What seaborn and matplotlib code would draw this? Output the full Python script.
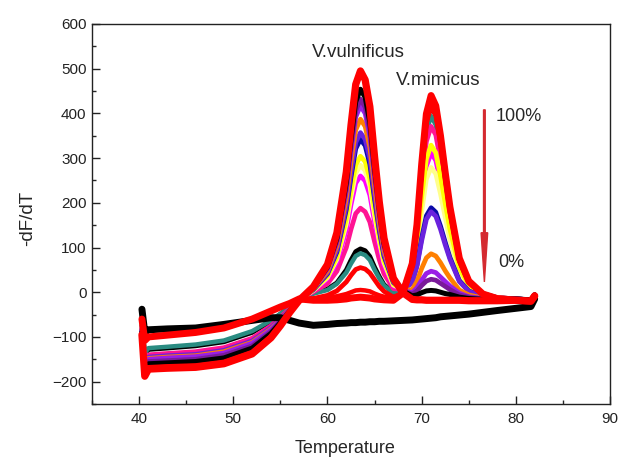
import matplotlib
matplotlib.use("Agg")
import matplotlib.pyplot as plt
import pandas as pd
import seaborn as sns
from matplotlib.ticker import MultipleLocator

# ---------------- data ----------------
temps = [40.3, 40.6, 41, 43, 46, 49, 52, 54, 55, 56, 57, 58.5, 60, 61, 62, 62.5, 63, 63.5,
         64, 64.5, 65, 65.5, 66, 67, 68, 69, 69.5, 70, 70.5, 71, 71.5, 72, 72.5, 73, 74,
         75, 76.5, 78, 80, 81.6, 82]

red_a = [-95, -188, -172, -170, -168, -160, -138, -102, -75, -45, -18, 12, 62, 133, 269, 374,
         465, 495, 475, 415, 303, 202, 121, 31, -1, -16, -17, -17, -18, -18, -18, -18, -18,
         -18, -18, -19, -19, -19, -18, -20, -8]
black_a = [-89, -175, -160, -158, -155, -147, -125, -92, -68, -42, -17, 10, 57, 121, 246, 343,
           426, 454, 436, 380, 277, 185, 110, 32, 3, -8, -6, -1, 3, 4, 3, 0, -3, -5, -11,
           -14, -16, -16, -15, -17, -6]
dark_purple = [-87, -169, -155, -153, -150, -141, -120, -88, -65, -40, -17, 9, 54, 115, 234,
               326, 406, 432, 414, 362, 264, 176, 104, 30, 3, -4, 3, 15, 25, 29, 27, 20, 13, 6,
               -6, -11, -15, -16, -15, -17, -6]
violet = [-84, -164, -150, -147, -144, -136, -114, -84, -62, -39, -17, 9, 52, 111, 226, 315,
          392, 417, 400, 349, 255, 170, 101, 28, 4, -1, 10, 27, 42, 47, 44, 34, 24, 14, -2,
          -10, -14, -16, -15, -17, -6]
orange = [-83, -161, -148, -145, -142, -133, -112, -82, -61, -38, -17, 8, 47, 103, 209, 292,
          363, 387, 371, 324, 236, 157, 93, 26, 4, 6, 24, 53, 77, 86, 81, 66, 48, 32, 5, -6,
          -13, -15, -15, -17, -6]
blue_violet = [-82, -158, -145, -142, -139, -130, -109, -79, -59, -37, -17, 7, 43, 94, 193,
               269, 335, 357, 342, 299, 217, 144, 85, 23, 6, 21, 58, 115, 163, 180, 170, 141,
               106, 74, 24, 2, -10, -14, -15, -17, -6]
navy = [-84, -165, -151, -148, -145, -137, -115, -85, -63, -39, -17, 6, 41, 90, 185, 258, 321,
        342, 328, 286, 208, 138, 81, 22, 6, 23, 61, 121, 171, 189, 179, 148, 112, 78, 26, 3,
        -10, -14, -15, -17, -6]
yellow = [-92, -180, -165, -163, -160, -152, -130, -96, -71, -43, -18, 5, 36, 79, 164, 229,
          285, 304, 292, 254, 184, 122, 71, 18, 8, 47, 111, 213, 298, 329, 312, 260, 199, 141,
          54, 16, -6, -13, -15, -17, -6]
light_yellow = [-91, -178, -163, -161, -158, -150, -128, -94, -70, -42, -17, 4, 33, 74, 153,
                214, 266, 284, 272, 237, 172, 114, 66, 16, 7, 38, 93, 180, 253, 279, 265, 220,
                168, 118, 44, 11, -7, -13, -15, -17, -6]
magenta = [-84, -164, -150, -147, -144, -136, -114, -84, -62, -39, -17, 3, 30, 67, 139, 196,
           244, 260, 249, 217, 157, 104, 60, 14, 7, 44, 105, 202, 282, 311, 295, 246, 188, 133,
           50, 14, -6, -13, -15, -17, -6]
deep_pink = [-79, -152, -140, -137, -133, -124, -103, -75, -56, -36, -17, 1, 19, 47, 100, 141,
             176, 188, 180, 157, 113, 73, 41, 8, 6, 54, 127, 241, 337, 371, 352, 294, 225, 160,
             62, 19, -5, -12, -15, -17, -6]
black_b = [-74, -139, -128, -125, -120, -111, -90, -65, -49, -33, -16, -2, 7, 21, 50, 72, 91,
           97, 93, 80, 56, 35, 17, -1, 5, 62, 143, 271, 378, 417, 396, 330, 253, 181, 72, 24,
           -3, -12, -15, -17, -6]
teal = [-72, -136, -125, -122, -117, -108, -87, -63, -48, -32, -16, -3, 5, 19, 44, 64, 81, 87,
        83, 72, 50, 31, 15, -1, 4, 58, 135, 256, 358, 394, 374, 312, 239, 170, 67, 21, -4,
        -12, -15, -17, -6]
red_b = [-93, -184, -168, -166, -164, -156, -134, -99, -73, -44, -18, -14, -7, 3, 23, 38, 51,
         55, 52, 43, 28, 13, 2, -11, -2, 59, 142, 274, 384, 424, 402, 336, 257, 182, 71, 22,
         -6, -15, -18, -20, -9]
red_c = [-94, -186, -170, -168, -166, -158, -136, -100, -74, -45, -18, -14, -12, -9, -4, 0,
         4, 5, 4, 2, -3, -7, -10, -14, -3, 57, 140, 269, 377, 416, 394, 330, 252, 178, 69, 21,
         -6, -15, -18, -20, -9]
red_d = [-60, -108, -100, -96, -90, -80, -60, -42, -33, -25, -15, -18, -18, -17, -15, -13,
         -12, -11, -12, -13, -15, -16, -17, -18, -2, 64, 151, 286, 399, 440, 417, 350, 268,
         191, 76, 25, -4, -14, -18, -20, -9]
control = [-38, -90, -84, -82, -80, -72, -63, -57, -57, -63, -69, -74, -72, -70, -69, -68,
           -68, -67, -67, -66, -66, -65, -65, -64, -63, -62, -61, -60, -59, -58, -57, -55,
           -54, -53, -51, -49, -45, -41, -36, -32, -15]

# (name, values, colour, linewidth) in drawing order
curves = [
    ("black_b", black_b, "#000000", 3.4),
    ("teal", teal, "#2a8c82", 3.2),
    ("deep_pink", deep_pink, "#ff1493", 3.4),
    ("magenta", magenta, "#ff00ff", 3.4),
    ("light_yellow", light_yellow, "#ffff8c", 3.4),
    ("yellow", yellow, "#ffff00", 3.4),
    ("navy", navy, "#0a0aa8", 3.4),
    ("blue_violet", blue_violet, "#6a22dd", 3.4),
    ("orange", orange, "#ff8000", 3.4),
    ("violet", violet, "#9a1ee6", 3.4),
    ("dark_purple", dark_purple, "#7a1a9a", 3.4),
    ("black_a", black_a, "#000000", 3.6),
    ("red_c", red_c, "#ff0000", 3.2),
    ("red_b", red_b, "#ff0000", 3.4),
    ("control", control, "#000000", 5.0),
    ("red_d", red_d, "#ff0000", 5.0),
    ("red_a", red_a, "#ff0000", 5.2),
]

frames = [pd.DataFrame({"Temperature": temps, "dFdT": vals, "curve": name})
          for name, vals, _, _ in curves]
df = pd.concat(frames, ignore_index=True)

# ---------------- style ----------------
sns.set_style("ticks")
plt.rcParams["font.family"] = ["Liberation Sans", "DejaVu Sans"]

fig = plt.figure(figsize=(6.18, 4.57), dpi=100)
ax = fig.add_axes([0.1489, 0.116, 0.8382, 0.8315])

for name, _, color, lw in curves:
    sub = df[df["curve"] == name]
    sns.lineplot(data=sub, x="Temperature", y="dFdT", color=color, linewidth=lw,
                 estimator=None, sort=False, ax=ax, legend=False,
                 solid_joinstyle="round", solid_capstyle="round")

ax.set_xlim(35, 90)
ax.set_ylim(-250, 600)
ax.set_xticks([40, 50, 60, 70, 80, 90])
ax.set_yticks([-200, -100, 0, 100, 200, 300, 400, 500, 600])
ax.xaxis.set_minor_locator(MultipleLocator(5))
ax.yaxis.set_minor_locator(MultipleLocator(50))
ax.tick_params(which="major", direction="in", length=6, width=1, labelsize=11,
               colors="#222222")
ax.tick_params(which="minor", direction="in", length=3, width=1)
ax.tick_params(axis="x", pad=6)
ax.tick_params(axis="y", pad=4)
for sp in ax.spines.values():
    sp.set_visible(True)
    sp.set_linewidth(1.0)
    sp.set_color("#222222")

ax.set_xlabel("Temperature", fontsize=13)
ax.set_ylabel("-dF/dT", fontsize=13.5)
ax.xaxis.set_label_coords(0.488, -0.095)
ax.yaxis.set_label_coords(-0.108, 0.487)

# annotations
ax.text(63.3, 526, "V.vulnificus", fontsize=13.5, ha="center", va="baseline")
ax.text(71.8, 464, "V.mimicus", fontsize=13.5, ha="center", va="baseline")
ax.text(77.9, 383, "100%", fontsize=13, ha="left", va="baseline")
ax.text(78.1, 57, "0%", fontsize=13, ha="left", va="baseline")
ax.arrow(76.66, 408, 0, -385, width=0.18, head_width=0.7, head_length=110,
         length_includes_head=True, color="#d42a30", zorder=5)

fig.savefig("out.png", dpi=100)
